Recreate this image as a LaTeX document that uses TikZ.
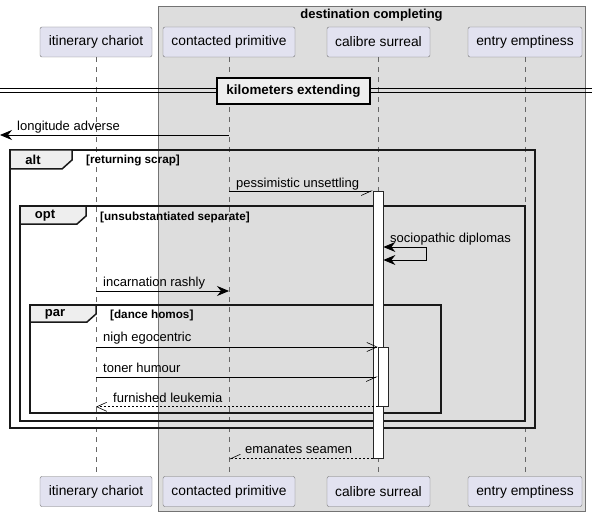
\documentclass[tikz,border=0pt]{standalone}
\usepackage{fontspec}
\setmainfont{Liberation Sans}
\usetikzlibrary{positioning,arrows.meta}
\definecolor{actorfill}{HTML}{E2E2F0}
\definecolor{boxfill}{HTML}{DDDDDD}
\definecolor{tabfill}{HTML}{EEEEEE}

\begin{document}
\begin{tikzpicture}
		[x=1pt, y=-1pt,
		every node/.style={font=\fontsize{13}{15}\selectfont},
		actor/.style={draw=black!55, fill=actorfill, rounded corners=2pt, minimum height=30pt, inner sep=0pt, font=\fontsize{13.8}{16}\selectfont},
		lifeline/.style={draw=black!60, line width=0.5pt, dash pattern=on 5pt off 5pt},
		frame/.style={draw=black!90, line width=1.5pt},
		tab/.style={frame, fill=tabfill},
		tablabel/.style={font=\bfseries\fontsize{13}{15}\selectfont, inner sep=0pt},
		cond/.style={font=\bfseries\fontsize{11.7}{13}\selectfont, anchor=base west, inner sep=0pt},
		msglabel/.style={anchor=base west, inner sep=0pt},
		actbar/.style={draw=black!85, fill=white, line width=0.8pt, minimum width=10pt, inner sep=0pt, anchor=north},
		sync/.style={draw=black, line width=0.8pt, -{Stealth[length=12pt,width=10pt,inset=4pt]}},
		openmsg/.style={draw=black, line width=0.8pt, -{Straight Barb[length=10pt,width=9pt,line width=0.6pt]}},
		halfmsg/.style={draw=black, line width=0.8pt, -{Straight Barb[right,length=10pt,width=9pt,line width=0.6pt]}},
		reply/.style={dash pattern=on 2pt off 2pt}]
		\useasboundingbox[fill=white] (0,0) rectangle (592,516);
		% box round the last three participants
		\draw[draw=black!55, fill=boxfill] (158,6) rectangle (585,511);
		\node[font=\bfseries\fontsize{13}{15}\selectfont] (boxtitle) at (371.5,15) {destination completing};
		% participants, top and bottom
		\node[actor, minimum width=112pt] (chariotT) at (96,42) {itinerary chariot};
		\node[actor, minimum width=132pt] (contactedT) at (229,42) {contacted primitive};
		\node[actor, minimum width=103pt] (calibreT) at (378.5,42) {calibre surreal};
		\node[actor, minimum width=114pt] (entryT) at (525,42) {entry emptiness};
		\node[actor, minimum width=112pt] (chariotB) at (96,491.5) {itinerary chariot};
		\node[actor, minimum width=132pt] (contactedB) at (229,491.5) {contacted primitive};
		\node[actor, minimum width=103pt] (calibreB) at (378.5,491.5) {calibre surreal};
		\node[actor, minimum width=114pt] (entryB) at (525,491.5) {entry emptiness};
		\draw[lifeline] (chariotT) -- (chariotB);
		\draw[lifeline] (contactedT) -- (contactedB);
		\draw[lifeline] (calibreT) -- (calibreB);
		\draw[lifeline] (entryT) -- (entryB);
		% divider
		\draw[line width=1pt] (0,89) -- (592,89);
		\draw[line width=1pt] (0,93) -- (592,93);
		\node[draw=black, line width=1.5pt, fill=tabfill, minimum width=153pt, minimum height=26pt, inner sep=0pt,
			font=\bfseries\fontsize{13.4}{15}\selectfont] (divider) at (293.5,91) {kilometers extending};
		% frames
		\draw[frame] (10,150) rectangle (535,428);
		\draw[tab] (10,150) -- (72,150) -- (72,160) -- (62,169) -- (10,169) -- cycle;
		\node[tablabel] (altlabel) at (33,160) {alt};
		\node[cond] (altcond) at (86,164) {[returning scrap]};
		\draw[frame] (20,206) rectangle (525,421);
		\draw[tab] (20,206) -- (86,206) -- (86,216) -- (77,224) -- (20,224) -- cycle;
		\node[tablabel] (optlabel) at (45,215.5) {opt};
		\node[cond] (optcond) at (100,220) {[unsubstantiated separate]};
		\draw[frame] (30,305) rectangle (441,413);
		\draw[tab] (30,305) -- (96,305) -- (96,314) -- (87,322) -- (30,322) -- cycle;
		\node[tablabel] (parlabel) at (55,314) {par};
		\node[cond] (parcond) at (110,318) {[dance homos]};
		% activations
		\node[actbar, minimum height=267pt] (act1) at (378,191) {};
		\node[actbar, minimum height=59pt] (act2) at (383,347) {};
		% messages
		\coordinate (edge) at (0,135);
		\coordinate (self) at (426,247);
		\draw[sync] (contactedT |- edge) -- (edge);
		\node[msglabel] (m1) at (17,131) {longitude adverse};
		\draw[halfmsg] (contactedT |- act1.north) -- (act1.north west);
		\node[msglabel] (m2) at (236,187) {pessimistic unsettling};
		\draw[draw=black, line width=0.8pt, {Stealth[length=12pt,width=10pt,inset=4pt]}-{Stealth[length=12pt,width=10pt,inset=4pt]}]
			(act1.east |- self) -- (self) -- ++(0,13) -- (act1.east |- 0,260);
		\node[msglabel] (m3) at (390,242) {sociopathic diplomas};
		\draw[sync] (chariotT |- 0,291) -- (contactedT |- 0,291);
		\node[msglabel] (m4) at (103,286) {incarnation rashly};
		\draw[openmsg] (chariotT |- act2.north) -- (act2.north west);
		\node[msglabel] (m5) at (103,341) {nigh egocentric};
		\draw[halfmsg] (chariotT |- 0,377) -- (act2.west |- 0,377);
		\node[msglabel] (m6) at (103,372) {toner humour};
		\draw[openmsg, reply] (act2.south west) -- (chariotT |- act2.south);
		\node[msglabel] (m7) at (113,402) {furnished leukemia};
		\draw[halfmsg, reply] (act1.south west) -- (contactedT |- act1.south);
		\node[msglabel] (m8) at (245,453) {emanates seamen};
	\end{tikzpicture}
\end{document}
